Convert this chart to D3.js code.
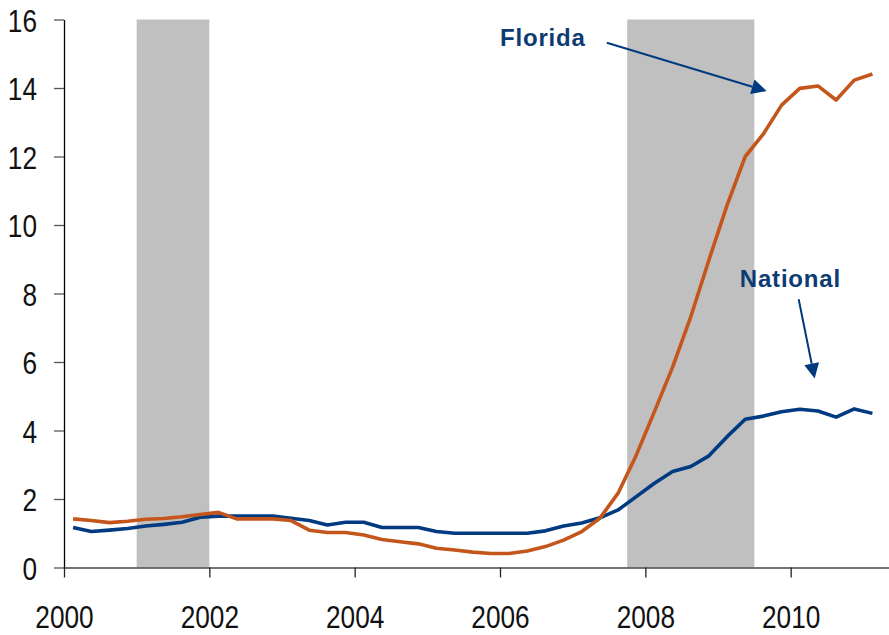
<!DOCTYPE html>
<html>
<head>
<meta charset="utf-8">
<script src="https://cdn.jsdelivr.net/npm/d3@7"></script>
<style>
  body { margin: 0; background: #fff; }
  svg { display: block; }
</style>
</head>
<body>
<script>
// quarterly points, mid-quarter, 2000Q1 .. 2011Q1
const quarters = d3.range(45).map(i => 2000.125 + i * 0.25)
const florida = [1.42,1.37,1.31,1.35,1.41,1.43,1.48,1.55,1.61,1.42,1.42,1.42,1.37,1.09,1.02,1.02,0.95,0.82,0.75,0.69,0.56,0.51,0.45,0.41,0.41,0.48,0.61,0.80,1.05,1.44,2.17,3.28,4.55,5.85,7.32,8.98,10.58,12.0,12.66,13.5,13.99,14.06,13.65,14.23,14.41]
const national = [1.17,1.05,1.09,1.14,1.21,1.26,1.32,1.47,1.50,1.50,1.50,1.50,1.44,1.37,1.24,1.32,1.32,1.17,1.17,1.17,1.05,1.0,1.0,1.0,1.0,1.0,1.07,1.21,1.30,1.45,1.68,2.07,2.46,2.80,2.95,3.26,3.82,4.33,4.42,4.55,4.62,4.57,4.39,4.63,4.50]
// recessions
const recStart = [2001.0, 2007.75]
const recEnd = [2002.0, 2009.5]
const xTicks = [2000, 2002, 2004, 2006, 2008, 2010]
const yTicks = [0, 2, 4, 6, 8, 10, 12, 14, 16]
// annotation anchors (year, value)
const labels = [
  {name: 'Florida', at: [2006.0, 15.23], from: [2007.47, 15.32], to: [2009.67, 13.91]},
  {name: 'National', at: [2009.30, 8.19], from: [2010.11, 7.83], to: [2010.33, 5.52]}
]

const w = 889
const h = 635
const colors = { fl: '#c4561c', us: '#003a80', band: '#c0c0c0', text: '#0d3b72' }
const squeeze = 0.82 // tick font is a condensed face, fake it

const svg = d3.select('body').append('svg').attr('width', w).attr('height', h)

const x = d3.scaleLinear().domain([2000, 2011.353]).range([64, 889])
const y = d3.scaleLinear().domain([0, 16]).range([567.5, 19.5])

// grey recession bands
svg.append('g').selectAll('rect')
  .data(recStart)
  .enter()
  .append('rect')
  .attr('x', d => x(d))
  .attr('y', y(16))
  .attr('width', (d, i) => x(recEnd[i]) - x(d))
  .attr('height', y(0) - y(16))
  .style('fill', colors.band)

// axes
const yAxis = d3.axisLeft(y).tickValues(yTicks).tickSize(10).tickPadding(17).tickSizeOuter(0)
const xAxis = d3.axisBottom(x).tickValues(xTicks).tickSize(10).tickPadding(28).tickSizeOuter(0).tickFormat(d3.format('d'))

const gy = svg.append('g').attr('transform', 'translate(' + x(2000) + ',0)').call(yAxis)
const gx = svg.append('g').attr('transform', 'translate(0,' + y(0) + ')').call(xAxis)

gy.select('.domain').attr('stroke', '#000').attr('stroke-width', 1.3)
gy.selectAll('.tick line').attr('stroke', '#555').attr('stroke-width', 1.3)
gy.selectAll('.tick text').attr('dy', '0.36em').attr('x', -27 / squeeze)
gx.select('.domain').attr('stroke', '#444').attr('stroke-width', 1.3)
gx.selectAll('.tick line').attr('stroke', '#222').attr('stroke-width', 1.3)
svg.selectAll('.tick text')
  .attr('transform', 'scale(' + squeeze + ',1)')
  .style('font-family', '"Liberation Sans",Arial,sans-serif')
  .style('font-size', '32px')
  .style('fill', '#111')

// lines
const line = d3.line().x((d, i) => x(quarters[i])).y(d => y(d))
const series = [ {vals: national, c: colors.us}, {vals: florida, c: colors.fl} ]
svg.append('g').selectAll('path')
  .data(series)
  .enter()
  .append('path')
  .attr('d', d => line(d.vals))
  .style('fill', 'none')
  .style('stroke', d => d.c)
  .style('stroke-width', 3.6)
  .style('stroke-linejoin', 'round')

// labels + arrows
const ann = svg.append('g')
labels.forEach(l => {
  ann.append('text')
    .text(l.name)
    .attr('x', x(l.at[0]))
    .attr('y', y(l.at[1]))
    .style('font-family', '"Liberation Sans",Arial,sans-serif')
    .style('font-weight', 'bold')
    .style('font-size', '24px')
    .style('letter-spacing', '0.8px')
    .style('fill', colors.text)

  const x1 = x(l.from[0]), y1 = y(l.from[1]), x2 = x(l.to[0]), y2 = y(l.to[1])
  const a = Math.atan2(y2 - y1, x2 - x1)
  const len = 15, half = 7.5
  const bx = x2 - len * Math.cos(a), by = y2 - len * Math.sin(a)
  ann.append('line')
    .attr('x1', x1).attr('y1', y1).attr('x2', bx).attr('y2', by)
    .style('stroke', colors.us).style('stroke-width', 2)
  ann.append('polygon')
    .attr('points', [
      [x2, y2],
      [bx + half * Math.sin(a), by - half * Math.cos(a)],
      [bx - half * Math.sin(a), by + half * Math.cos(a)]
    ].map(p => p.join(',')).join(' '))
    .style('fill', colors.us)
})
</script>
</body>
</html>
